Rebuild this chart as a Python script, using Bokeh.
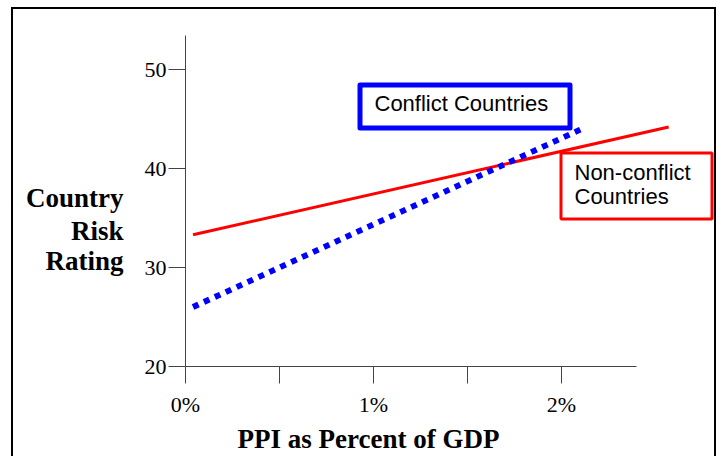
from bokeh.plotting import figure
from bokeh.models import Range1d, Label, FixedTicker, LinearAxis
from bokeh.embed import file_html
from bokeh.resources import INLINE

# ---- data ----
noncon_x = [0.04, 2.57]
noncon_y = [33.3, 44.2]
conf_x = [0.04, 2.12]
conf_y = [26.0, 44.1]
x_ticks = [0, 0.5, 1, 1.5, 2]
x_tick_labels = ["0%", "", "1%", "", "2%"]
y_ticks = [20, 30, 40, 50]
y_title_lines = ["Country", "Risk", "Rating"]
x_title = "PPI as Percent of GDP"
conf_label = "Conflict Countries"
noncon_label = ["Non-conflict", "Countries"]

SERIF = "Liberation Serif"
SANS = "Liberation Sans"

W, H = 717, 456
# pixel helpers (canvas coords -> data), layout only
PX0, PXS = 185.0, 188.0
PY0, PYS = 366.0, 9.9
def dx(px):
    return (px - PX0) / PXS
def dy(py):
    return 20 + (PY0 - py) / PYS

p = figure(width=W, height=H, output_backend="svg", toolbar_location=None,
           x_range=Range1d(0, dx(W)), y_range=Range1d(20, dy(35)),
           min_border_left=185, min_border_right=0, min_border_top=35,
           min_border_bottom=H - 366)
p.grid.visible = False
p.outline_line_color = None
p.background_fill_color = "white"
p.border_fill_color = "white"

for ax in (p.xaxis[0], p.yaxis[0]):
    ax.axis_line_color = "#444444"
    ax.major_tick_line_color = "#444444"
    ax.minor_tick_line_color = None
    ax.major_tick_in = 0
    ax.major_tick_out = 17
    ax.major_label_text_font = SERIF
    ax.major_label_text_font_size = "22px"
    ax.major_label_text_color = "black"

p.xaxis.ticker = FixedTicker(ticks=x_ticks)
p.xaxis.major_label_overrides = {t: l for t, l in zip(x_ticks, x_tick_labels)}
p.xaxis.bounds = (0, dx(636))
p.xaxis.major_label_standoff = 8
p.yaxis.ticker = FixedTicker(ticks=y_ticks)
p.yaxis.major_label_standoff = 2

# y title drawn as a second (tickless) left axis with horizontal word labels
title_pos = [round(dy(198), 2), round(dy(231), 2), round(dy(261), 2)]
yt = LinearAxis(ticker=FixedTicker(ticks=title_pos),
                major_label_overrides={t: s for t, s in zip(title_pos, y_title_lines)},
                axis_line_color=None, major_tick_line_color=None,
                minor_tick_line_color=None, major_tick_in=0, major_tick_out=0,
                major_label_standoff=18, major_label_text_font=SERIF,
                major_label_text_font_size="27px",
                major_label_text_font_style="bold",
                major_label_text_color="black")
p.add_layout(yt, "left")

# x title drawn as a second below axis whose single label sits at the title centre
xt_pos = round(dx(368), 3)
xt = LinearAxis(ticker=FixedTicker(ticks=[xt_pos]),
                major_label_overrides={xt_pos: x_title},
                axis_line_color=None, major_tick_line_color=None,
                minor_tick_line_color=None, major_tick_in=0, major_tick_out=0,
                major_label_standoff=4, major_label_text_font=SERIF,
                major_label_text_font_size="27px",
                major_label_text_font_style="bold",
                major_label_text_color="black")
p.add_layout(xt, "below")

# lines
p.line(noncon_x, noncon_y, line_color="#FF0000", line_width=3)
p.line(conf_x, conf_y, line_color="#0000FF", line_width=6, line_dash="6 6")

# boxes
p.quad(left=[dx(359.5)], right=[dx(569.5)], top=[dy(84.5)], bottom=[dy(127.5)],
       fill_color="white", line_color="#0000FF", line_width=5, line_join="round")
p.quad(left=[dx(560.5)], right=[dx(711.5)], top=[dy(152.5)], bottom=[dy(218.5)],
       fill_color="white", line_color="#FF0000", line_width=3)

p.add_layout(Label(x=dx(374), y=dy(115), text=conf_label, text_font=SANS,
                   text_font_size="22px", text_color="black"))
for line, py in zip(noncon_label, [184, 208]):
    p.add_layout(Label(x=dx(574), y=dy(py), text=line, text_font=SANS,
                       text_font_size="22px", text_color="black"))

# outer frame of the slide graphic
p.stylesheets = [""":host::after {
  content: ""; position: absolute; left: 11px; top: 7px;
  width: 705px; height: 449px; box-sizing: border-box;
  border-top: 2px solid black; border-left: 2px solid black;
  border-right: 2px solid black; pointer-events: none; }"""]

open("out.html", "w").write(file_html(p, INLINE))
